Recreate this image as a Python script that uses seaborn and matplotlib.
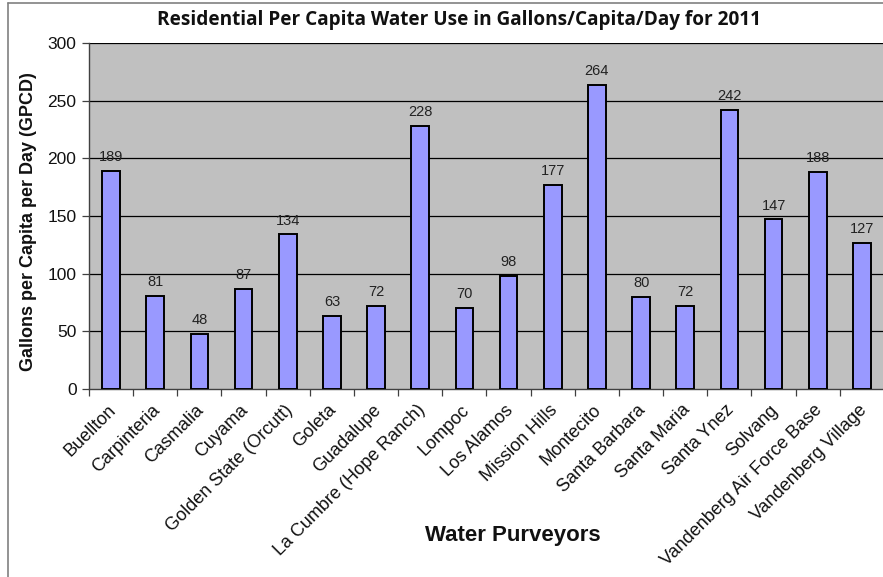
import matplotlib
matplotlib.use("Agg")
import matplotlib.pyplot as plt
from matplotlib.lines import Line2D
import seaborn as sns
import pandas as pd
import numpy as np

purveyors = [
    "Buellton", "Carpinteria", "Casmalia", "Cuyama", "Golden State (Orcutt)",
    "Goleta", "Guadalupe", "La Cumbre (Hope Ranch)", "Lompoc", "Los Alamos",
    "Mission Hills", "Montecito", "Santa Barbara", "Santa Maria", "Santa Ynez",
    "Solvang", "Vandenberg Air Force Base", "Vandenberg Village",
]
gpcd = [189, 81, 48, 87, 134, 63, 72, 228, 70, 98, 177, 264, 80, 72, 242, 147, 188, 127]
y_ticks = [0, 50, 100, 150, 200, 250, 300]

df = pd.DataFrame({"purveyor": purveyors, "gpcd": gpcd})

sns.set_theme(style="white")
plt.rcParams["font.family"] = ["Liberation Sans", "DejaVu Sans"]

fig = plt.figure(figsize=(8.83, 5.77), dpi=100)
ax = fig.add_axes([89 / 883, 1 - 389 / 577, 795 / 883, 346 / 577])
ax.set_facecolor("#C0C0C0")

sns.barplot(data=df, x="purveyor", y="gpcd", color="#9999FF", width=0.4,
            edgecolor="black", linewidth=1.4, saturation=1, ax=ax, zorder=3)

ax.set_ylim(0, 300)
ax.set_xlim(-0.5, len(purveyors) - 0.5)
ax.set_yticks(y_ticks)
ax.set_yticklabels([str(t) for t in y_ticks], fontsize=12.5, color="#111111")
for t in y_ticks[1:]:
    ax.axhline(t, color="black", linewidth=0.9, zorder=1)

# rotated category labels sit just left of each bar centre (invisible major ticks);
# visible tick marks fall between categories
ax.set_xticks(np.arange(len(purveyors)) - 0.09)
ax.set_xticklabels(purveyors, rotation=45, ha="right", rotation_mode="anchor",
                   fontsize=13, color="#111111")
ax.tick_params(axis="x", which="major", length=0, pad=9)
ax.set_xticks(np.arange(-0.5, len(purveyors), 1.0), minor=True)
ax.tick_params(axis="x", which="minor", length=5, width=0.9, color="#404040", direction="out", bottom=True)
ax.tick_params(axis="y", length=5, width=0.9, color="#404040", direction="out", left=True, pad=4)

for s in ["top", "right"]:
    ax.spines[s].set_visible(False)
for s in ["left", "bottom"]:
    ax.spines[s].set_color("#404040")
    ax.spines[s].set_linewidth(1.0)

for i, v in enumerate(gpcd):
    ax.annotate(str(v), (i, v), xytext=(0, 10), textcoords="offset points",
                ha="center", va="center", fontsize=10.5, color="#222222")

ax.set_xlabel("Water Purveyors", fontsize=16, fontweight="bold", color="#111111")
ax.xaxis.set_label_coords((513 - 89) / 795, -(536 - 389) / 346)
ax.xaxis.label.set_va("center")
ax.set_ylabel("Gallons per Capita per Day (GPCD)", fontsize=13, fontweight="bold", color="#111111")
ax.yaxis.set_label_coords(-(89 - 28) / 795, (389 - 222) / 346)
ax.yaxis.label.set_va("center")

fig.text(459 / 883, 1 - 20 / 577, "Residential Per Capita Water Use in Gallons/Capita/Day for 2011",
         ha="center", va="center", fontsize=13.7, fontweight="bold",
         family=["Open Sans", "DejaVu Sans"], color="#111111")

# chart frame
fig.add_artist(Line2D([8 / 883, 8 / 883], [0, 1 - 3 / 577], transform=fig.transFigure,
                      color="#808080", linewidth=1.2))
fig.add_artist(Line2D([8 / 883, 1], [1 - 3 / 577, 1 - 3 / 577], transform=fig.transFigure,
                      color="#808080", linewidth=1.2))

fig.savefig("out.png", dpi=100)
